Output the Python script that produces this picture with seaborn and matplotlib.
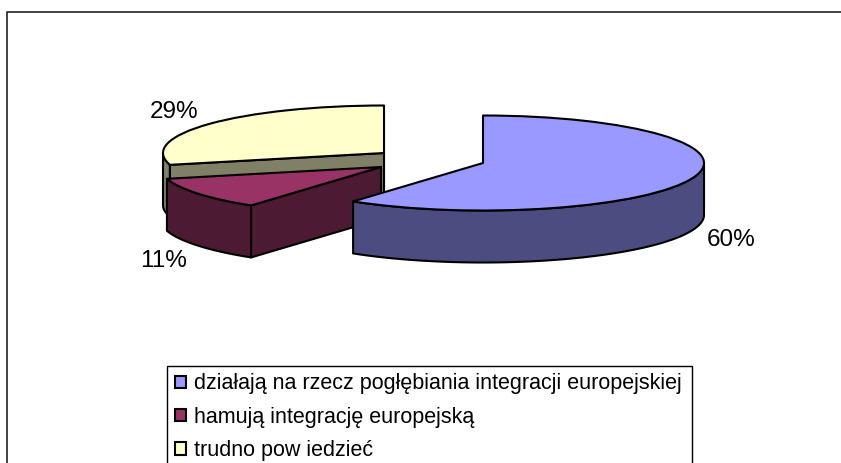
import numpy as np
import matplotlib
matplotlib.use("Agg")
import matplotlib.pyplot as plt
from matplotlib.lines import Line2D
from matplotlib.patches import Rectangle
import seaborn as sns

labels = ["działają na rzecz pogłębiania integracji europejskiej",
          "hamują integrację europejską",
          "trudno pow iedzieć"]
values = [60, 11, 29]
value_labels = ["60%", "11%", "29%"]

top_colors = ["#9999FF", "#993366", "#FFFFCC"]
wall_colors = ["#4C4C80", "#4D1A33", "#808066"]

W, H = 841, 463
RX, RY, DEPTH = 221.0, 47.5, 52.0
apex_px = [(483, 163), (381, 167), (384, 153)]
label_px = [(731, 240), (164, 261), (174, 111.5)]
FONT = ["Liberation Sans", "DejaVu Sans"]

sns.set_theme(style="white")
plt.rcParams["font.family"] = FONT
plt.rcParams["text.color"] = "black"

fig = plt.figure(figsize=(W / 100, H / 100), dpi=100, facecolor="white")
ax = fig.add_axes([0, 0, 1, 1])
wedges, _ = ax.pie(values, colors=top_colors, startangle=90, counterclock=False,
                   wedgeprops=dict(edgecolor="black", linewidth=1.5, joinstyle="round"))
ax.set_aspect("auto")
# one pie unit = RX pixels across, RY pixels down
ax.set_xlim(0, W / RX)
ax.set_ylim(0, H / RY)
ax.axis("off")


def to_data(px, py):
    return np.asarray(px) / RX, (H - np.asarray(py)) / RY


d = DEPTH / RY
draw_order = [2, 1, 0]
for rank, i in enumerate(draw_order):
    wedge = wedges[i]
    cx, cy = to_data(*apex_px[i])
    wedge.set_center((cx, cy))
    wedge.set_zorder(10 + 3 * rank + 2)
    t = np.radians(np.linspace(wedge.theta1, wedge.theta2, 400))
    t = t[np.sin(t) <= 0]
    if t.size:
        x = cx + np.cos(t)
        y = cy + np.sin(t)
        ax.fill(np.r_[x, x[::-1]], np.r_[y, y[::-1] - d], facecolor=wall_colors[i],
                edgecolor="black", lw=1.5, joinstyle="round", zorder=10 + 3 * rank)
    # cut face looking towards the viewer (the clockwise-start edge of the slice)
    if i != 0:
        a = np.radians(wedge.theta2)
        ex, ey = cx + np.cos(a), cy + np.sin(a)
        ax.fill([cx, ex, ex, cx], [cy, ey, ey - d, cy - d], facecolor=wall_colors[i],
                edgecolor="black", lw=1.5, joinstyle="round", zorder=10 + 3 * rank + 1)

for (px, py), s in zip(label_px, value_labels):
    x, y = to_data(px, py)
    ax.text(x, y, s, fontsize=17.5, color="black", ha="center", va="center", zorder=30)

# outer frame: its right and bottom edges lie beyond the picture
ax.add_line(Line2D(*to_data([7, 7, 860], [480, 12, 12]), color="#222222", lw=1.2, zorder=1))

# legend box, also running past the bottom of the picture
bx, by = to_data(167, 480)
bx2, by2 = to_data(692, 366)
ax.add_patch(Rectangle((bx, by), bx2 - bx, by2 - by, facecolor="white", edgecolor="black",
                       lw=1.0, zorder=39))

lx, ly = to_data(175, 373.5)
leg = ax.legend(wedges, labels, loc="upper left", bbox_to_anchor=(lx, ly),
                bbox_transform=ax.transData, fontsize=15.5, frameon=False,
                borderaxespad=0, borderpad=0, labelspacing=0.57,
                handlelength=0.5, handleheight=0.5, handletextpad=0.39)
leg.set_zorder(40)
for h in leg.get_patches():
    h.set_linewidth(1.5)

fig.savefig("out.png", dpi=100)
